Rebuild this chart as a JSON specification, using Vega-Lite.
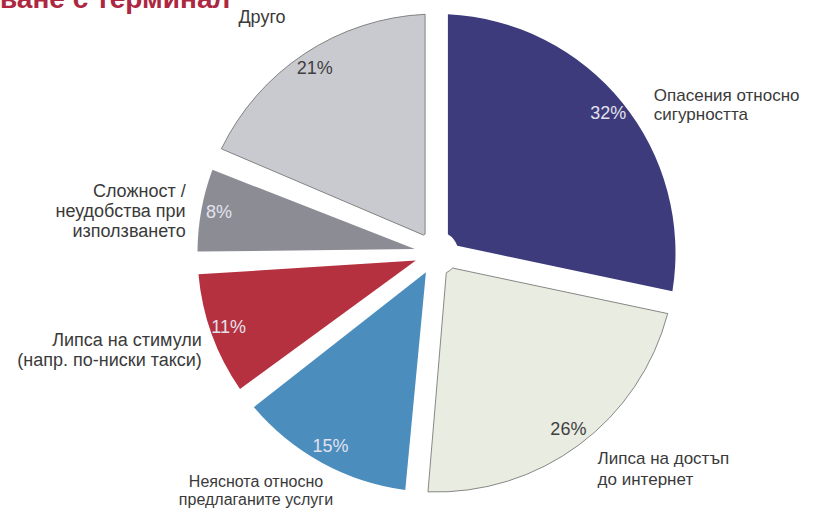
{
  "$schema": "https://vega.github.io/schema/vega-lite/v6.json",
  "autosize": "none",
  "width": 753,
  "height": 506,
  "padding": {"left": 60, "top": 0, "right": 0, "bottom": 3},
  "background": "white",
  "title": {
    "text": "ване с терминал",
    "anchor": "start",
    "frame": "group",
    "orient": "top",
    "offset": -36,
    "dx": -60,
    "baseline": "alphabetic",
    "font": "Liberation Sans",
    "fontSize": 28,
    "fontWeight": "bold",
    "color": "#ad2741"
  },
  "data": {
    "values": [
      {"category": "Опасения относно\nсигурността", "share": 0.32, "order": 1},
      {"category": "Липса на достъп\nдо интернет", "share": 0.26, "order": 2},
      {"category": "Неяснота относно\nпредлаганите услуги", "share": 0.15, "order": 3},
      {"category": "Липса на стимули\n(напр. по-ниски такси)", "share": 0.11, "order": 4},
      {"category": "Сложност /\nнеудобства при\nизползването", "share": 0.08, "order": 5},
      {"category": "Друго", "share": 0.21, "order": 6}
    ]
  },
  "encoding": {
    "theta": {"field": "share", "type": "quantitative", "stack": true},
    "order": {"field": "order", "type": "quantitative"}
  },
  "layer": [
    {
      "mark": {"type": "arc", "outerRadius": 239, "innerRadius": 22, "padAngle": 0.095, "strokeWidth": 0.8},
      "encoding": {
        "color": {
          "field": "category",
          "type": "nominal",
          "scale": {
            "domain": [
              "Опасения относно\nсигурността",
              "Липса на достъп\nдо интернет",
              "Неяснота относно\nпредлаганите услуги",
              "Липса на стимули\n(напр. по-ниски такси)",
              "Сложност /\nнеудобства при\nизползването",
              "Друго"
            ],
            "range": ["#3d3b7b", "#e9ece1", "#4b8dbd", "#b6313f", "#8c8c95", "#c9cacf"]
          },
          "legend": null
        },
        "stroke": {
          "condition": {"test": "datum.order == 2 || datum.order == 6", "value": "#6b6b6b"},
          "value": "transparent"
        }
      }
    },
    {
      "mark": {"type": "text", "radius": 221, "font": "Liberation Sans", "fontSize": 18, "align": "center", "baseline": "middle"},
      "encoding": {
        "text": {"field": "share", "type": "quantitative", "format": ".0%"},
        "fill": {
          "condition": {"test": "datum.order == 2 || datum.order == 6", "value": "#3f3f3f"},
          "value": "#e2e2ee"
        }
      }
    },
    {
      "mark": {"type": "text", "radius": 263, "dx": 13, "dy": 9, "font": "Liberation Sans", "fontSize": 17, "lineHeight": 19, "lineBreak": "\n", "align": "left", "baseline": "middle", "fill": "#3a3a3a"},
      "encoding": {"text": {"condition": {"test": "datum.order == 1", "field": "category", "type": "nominal"}, "value": ""}}
    },
    {
      "mark": {"type": "text", "radius": 270, "dy": -11, "font": "Liberation Sans", "fontSize": 17, "lineHeight": 21, "lineBreak": "\n", "align": "left", "baseline": "middle", "fill": "#3a3a3a"},
      "encoding": {"text": {"condition": {"test": "datum.order == 2", "field": "category", "type": "nominal"}, "value": ""}}
    },
    {
      "mark": {"type": "text", "radius": 272, "dx": -50, "dy": -10, "font": "Liberation Sans", "fontSize": 16, "lineHeight": 18, "lineBreak": "\n", "align": "center", "baseline": "middle", "fill": "#3a3a3a"},
      "encoding": {"text": {"condition": {"test": "datum.order == 3", "field": "category", "type": "nominal"}, "value": ""}}
    },
    {
      "mark": {"type": "text", "radius": 257, "dx": 7, "dy": 0, "font": "Liberation Sans", "fontSize": 18, "lineHeight": 20, "lineBreak": "\n", "align": "right", "baseline": "middle", "fill": "#3a3a3a"},
      "encoding": {"text": {"condition": {"test": "datum.order == 4", "field": "category", "type": "nominal"}, "value": ""}}
    },
    {
      "mark": {"type": "text", "radius": 255, "dy": -15, "font": "Liberation Sans", "fontSize": 18, "lineHeight": 20, "lineBreak": "\n", "align": "right", "baseline": "middle", "fill": "#3a3a3a"},
      "encoding": {"text": {"condition": {"test": "datum.order == 5", "field": "category", "type": "nominal"}, "value": ""}}
    },
    {
      "mark": {"type": "text", "radius": 293, "dx": -13, "dy": 9, "font": "Liberation Sans", "fontSize": 18, "lineHeight": 20, "lineBreak": "\n", "align": "center", "baseline": "middle", "fill": "#3a3a3a"},
      "encoding": {"text": {"condition": {"test": "datum.order == 6", "field": "category", "type": "nominal"}, "value": ""}}
    }
  ],
  "config": {"view": {"stroke": null}}
}
